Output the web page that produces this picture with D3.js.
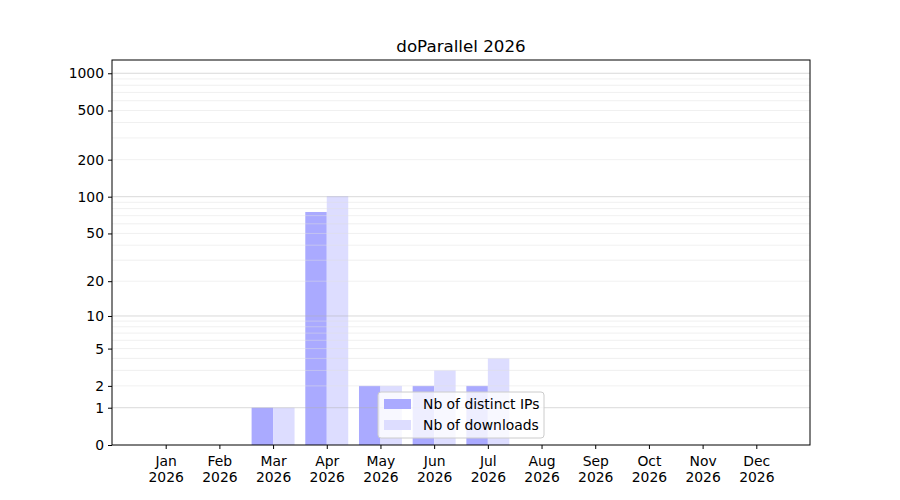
<!DOCTYPE html>
<html>
<head>
<meta charset="utf-8">
<script src="https://cdn.jsdelivr.net/npm/d3@7"></script>
<style>
  body { margin: 0; background: #fff; }
  svg { font-family: "DejaVu Sans", sans-serif; }
</style>
</head>
<body>
<svg id="svg" width="900" height="500"></svg>
<script>
// chart data
const months = ["Jan", "Feb", "Mar", "Apr", "May", "Jun", "Jul", "Aug", "Sep", "Oct", "Nov", "Dec"];
const year = "2026";
const distinctIPs = [0, 0, 1, 75, 2, 2, 2, 0, 0, 0, 0, 0];
const downloads = [0, 0, 1, 101, 2, 3, 4, 0, 0, 0, 0, 0];
const yTicks = [0, 1, 2, 5, 10, 20, 50, 100, 200, 500, 1000];
const majorGrid = [1, 10, 100, 1000];
const minorGrid = [2, 3, 4, 5, 6, 7, 8, 9, 20, 30, 40, 50, 60, 70, 80, 90, 200, 300, 400, 500, 600, 700, 800, 900];

const svg = d3.select("#svg");
const margins = { top: 60, right: 90, bottom: 55, left: 112 };
const chartWidth = 900 - margins.left - margins.right;
const chartHeight = 500 - margins.top - margins.bottom;
const fs = 13.9;
const font = "DejaVu Sans";

const g = svg.append("g").attr("transform", `translate(${margins.left},${margins.top})`);

const xScale = d3.scaleLinear().domain([-1, 12]).range([0, chartWidth]);
const yScale = d3.scaleSymlog().constant(1).domain([0, 1280]).range([chartHeight, 0]);

const barW = 0.4;

// bars
g.selectAll("rect.ips").data(distinctIPs).join("rect")
  .attr("class", "ips")
  .attr("x", (d, i) => xScale(i - barW))
  .attr("width", xScale(barW) - xScale(0))
  .attr("y", d => yScale(d))
  .attr("height", d => yScale(0) - yScale(d))
  .attr("fill", "#aaaaff");

g.selectAll("rect.dl").data(downloads).join("rect")
  .attr("class", "dl")
  .attr("x", (d, i) => xScale(i))
  .attr("width", xScale(barW) - xScale(0))
  .attr("y", d => yScale(d))
  .attr("height", d => yScale(0) - yScale(d))
  .attr("fill", "#ddddff");

// grid lines
g.selectAll("line.minor").data(minorGrid).join("line")
  .attr("x1", 0).attr("x2", chartWidth)
  .attr("y1", d => yScale(d)).attr("y2", d => yScale(d))
  .attr("stroke", "#e0e0e0").attr("stroke-opacity", 0.6).attr("stroke-width", 0.8);
g.selectAll("line.major").data(majorGrid).join("line")
  .attr("x1", 0).attr("x2", chartWidth)
  .attr("y1", d => yScale(d)).attr("y2", d => yScale(d))
  .attr("stroke", "#b0b0b0").attr("stroke-opacity", 0.6).attr("stroke-width", 0.8);

// axes
const yAxis = d3.axisLeft(yScale).tickValues(yTicks).tickFormat(d3.format("d")).tickSize(4).tickPadding(4);
const yG = g.append("g").call(yAxis).attr("font-family", font).attr("font-size", fs);
yG.select(".domain").remove();
yG.selectAll("text").attr("fill", "#000");

const xAxis = d3.axisBottom(xScale).tickValues(d3.range(12)).tickFormat("").tickSize(4);
const xG = g.append("g").attr("transform", `translate(0,${chartHeight})`).call(xAxis)
  .attr("font-family", font).attr("font-size", fs);
xG.select(".domain").remove();
xG.selectAll(".tick").each(function(d) {
  const t = d3.select(this).append("text")
    .attr("fill", "#000").attr("text-anchor", "middle");
  t.append("tspan").attr("x", 0).attr("y", 21).text(months[d]);
  t.append("tspan").attr("x", 0).attr("y", 37).text(year);
});

// frame
g.append("rect").attr("width", chartWidth).attr("height", chartHeight)
  .attr("fill", "none").attr("stroke", "#000").attr("stroke-width", 1);

// title
svg.append("text")
  .attr("x", margins.left + chartWidth / 2).attr("y", 52)
  .attr("text-anchor", "middle").attr("font-size", 16.7)
  .text("doParallel 2026");

// legend
const legend = svg.append("g").attr("transform", "translate(378,392)");
legend.append("rect").attr("width", 166).attr("height", 46).attr("rx", 3)
  .attr("fill", "#fff").attr("fill-opacity", 0.8).attr("stroke", "#cccccc");
const items = [["Nb of distinct IPs", "#aaaaff"], ["Nb of downloads", "#ddddff"]];
items.forEach(([label, color], i) => {
  legend.append("rect").attr("x", 6).attr("y", 7 + i * 21).attr("width", 27).attr("height", 10).attr("fill", color);
  legend.append("text").attr("x", 45).attr("y", 17 + i * 21).attr("font-size", fs).text(label);
});
</script>
</body>
</html>
